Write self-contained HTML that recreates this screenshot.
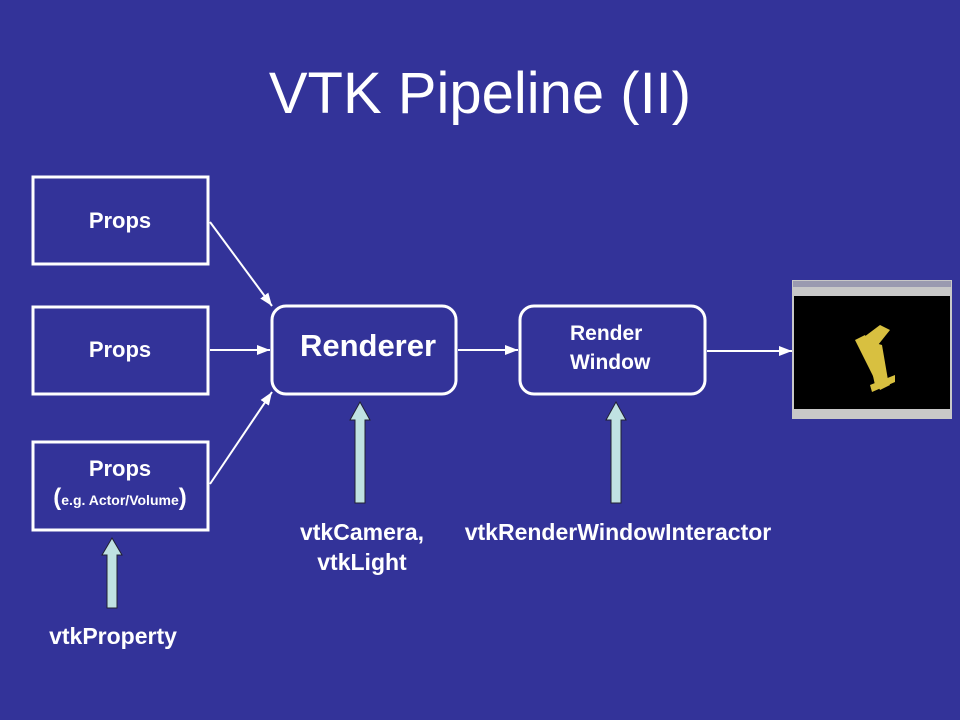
<!DOCTYPE html>
<html><head><style>body{margin:0;background:#333399}svg{display:block}text{font-family:"Liberation Sans",Arial,sans-serif;fill:#fff;font-weight:bold}</style></head>
<body>
<svg width="960" height="720" viewBox="0 0 960 720">
<defs><marker id="a" markerWidth="14" markerHeight="14" refX="13" refY="7" orient="auto" markerUnits="userSpaceOnUse"><path d="M0,2 L13,7 L0,12 z" fill="#fff"/></marker></defs>
<rect width="960" height="720" fill="#333399"/>
<text x="480" y="113" text-anchor="middle" font-size="58" style="font-weight:normal">VTK Pipeline (II)</text>
<g fill="none" stroke="#fff" stroke-width="3">
<rect x="33" y="177" width="175" height="87"/>
<rect x="33" y="307" width="175" height="87"/>
<rect x="33" y="442" width="175" height="88"/>
<rect x="272" y="306" width="184" height="88" rx="14"/>
<rect x="520" y="306" width="185" height="88" rx="14"/>
</g>
<g stroke="#fff" stroke-width="2" marker-end="url(#a)">
<line x1="210" y1="222" x2="272" y2="306"/>
<line x1="210" y1="350" x2="270" y2="350"/>
<line x1="210" y1="484" x2="272" y2="392"/>
<line x1="458" y1="350" x2="518" y2="350"/>
<line x1="707" y1="351" x2="792" y2="351"/>
</g>
<text x="120" y="228" text-anchor="middle" font-size="22">Props</text>
<text x="120" y="357" text-anchor="middle" font-size="22">Props</text>
<text x="120" y="476" text-anchor="middle" font-size="22">Props</text>
<text x="120" y="505" text-anchor="middle" font-size="14"><tspan font-size="24">(</tspan>e.g. Actor/Volume<tspan font-size="24">)</tspan></text>
<text x="368" y="356" text-anchor="middle" font-size="31">Renderer</text>
<text x="570" y="340" font-size="21">Render</text>
<text x="570" y="369" font-size="21">Window</text>
<g fill="#c0e2e2" stroke="#223" stroke-width="1">
<path d="M355,503 V420 H350 L360,402 L370,420 H365 V503 z"/>
<path d="M611,503 V420 H606 L616,402 L626,420 H621 V503 z"/>
<path d="M107,608 V555 H102 L112,538 L122,555 H117 V608 z"/>
</g>
<text x="362" y="540" text-anchor="middle" font-size="23">vtkCamera,</text>
<text x="362" y="570" text-anchor="middle" font-size="23">vtkLight</text>
<text x="618" y="540" text-anchor="middle" font-size="23">vtkRenderWindowInteractor</text>
<text x="113" y="644" text-anchor="middle" font-size="23">vtkProperty</text>
<rect x="792" y="280" width="160" height="139" fill="#c8c8c8"/>
<rect x="793" y="281" width="158" height="6" fill="#9a9ab0"/>
<rect x="794" y="296" width="156" height="113" fill="#000"/>
<g fill="#d8c040">
<path d="M860,340 L880,325 L890,330 L878,345 Z"/>
<path d="M855,340 L865,335 L890,385 L880,390 Z"/>
<path d="M865,340 L882,345 L888,380 L875,385 Z"/>
<path d="M870,385 L895,375 L895,382 L872,392 Z"/>
</g>
</svg>
</body></html>
